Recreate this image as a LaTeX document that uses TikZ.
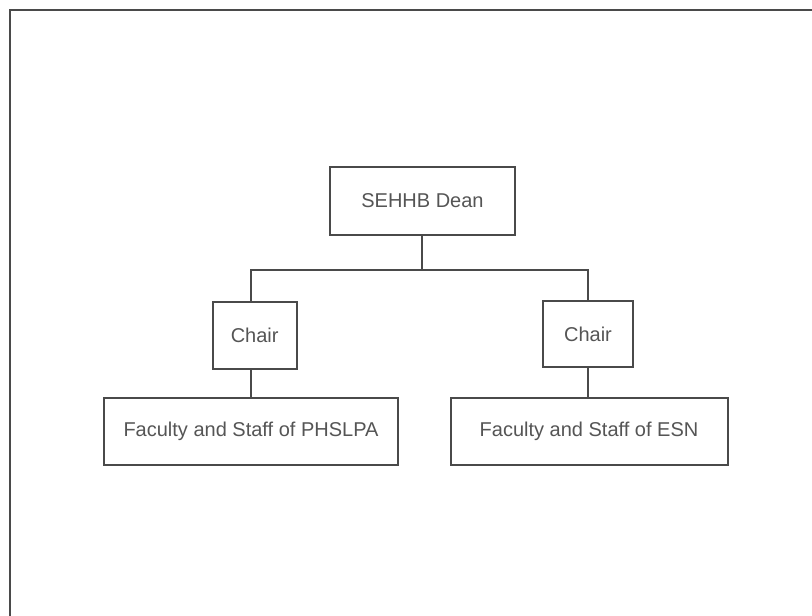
\documentclass[tikz,border=0pt]{standalone}
\usepackage{fontspec}
\setmainfont{Liberation Sans}
\definecolor{linegray}{HTML}{4A4A4A}
\definecolor{textgray}{HTML}{555555}
\begin{document}
\begin{tikzpicture}[x=1pt,y=-1pt,
  orgbox/.style={draw=linegray,line width=2pt,fill=white,inner sep=0pt,
    text=textgray,font=\fontsize{20}{22}\selectfont},
  conn/.style={draw=linegray,line width=2pt}]
\useasboundingbox (0,0) rectangle (812,616);
\fill[white] (0,0) rectangle (812,616);
\draw[conn] (812,10) -- (9.5,10) -- (9.5,620);
\node[orgbox,minimum width=185pt,minimum height=68pt] (dean) at (422.5,201) {SEHHB Dean};
\node[orgbox,minimum width=84pt,minimum height=67pt] (c1) at (254.7,335.3) {Chair};
\node[orgbox,minimum width=90pt,minimum height=66pt] (c2) at (588,334) {Chair};
\node[orgbox,minimum width=294pt,minimum height=67.5pt] (f1) at (251,431.3) {Faculty and Staff of PHSLPA};
\node[orgbox,minimum width=277pt,minimum height=67pt] (f2) at (589,431.5) {Faculty and Staff of ESN};
\coordinate (bus) at (421.7,270);
\draw[conn] (dean.south -| bus) -- (bus);
\draw[conn] (f1.north |- c1.north) |- (bus) -| (c2.north);
\draw[conn] (f1.north |- c1.south) -- (f1.north);
\draw[conn] (c2.south) -- (c2.south |- f2.north);
\end{tikzpicture}
\end{document}
